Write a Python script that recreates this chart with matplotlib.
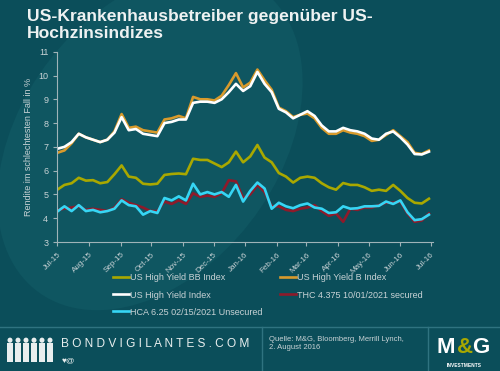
import pandas as pd
import matplotlib
matplotlib.use("Agg")
from matplotlib import pyplot as plt
from matplotlib.patches import Ellipse, Rectangle
import matplotlib.dates as mdates

# weekly observations, Jul 2015 - Jun 2016
dates = pd.date_range('2015-07-01', periods=53, freq='7D')

hy_bb = [5.2, 5.4, 5.47, 5.7, 5.58, 5.6, 5.47, 5.52, 5.85, 6.22,
         5.75, 5.7, 5.45, 5.42, 5.45, 5.82, 5.86, 5.88, 5.85, 6.5,
         6.45, 6.45, 6.3, 6.15, 6.35, 6.8, 6.35, 6.6, 7.08, 6.55,
         6.35, 5.9, 5.75, 5.5, 5.7, 5.75, 5.7, 5.47, 5.3, 5.2,
         5.48, 5.4, 5.4, 5.3, 5.15, 5.2, 5.15, 5.4, 5.15, 4.85,
         4.65, 4.62, 4.82]

hy_b = [6.75, 6.85, 7.15, 7.55, 7.4, 7.3, 7.2, 7.3, 7.65, 8.38,
        7.8, 7.85, 7.7, 7.65, 7.6, 8.15, 8.2, 8.3, 8.2, 9.1,
        9.0, 9.0, 8.95, 9.15, 9.6, 10.1, 9.5, 9.7, 10.25, 9.8,
        9.4, 8.65, 8.5, 8.25, 8.35, 8.4, 8.2, 7.8, 7.55, 7.55,
        7.7, 7.6, 7.55, 7.45, 7.25, 7.3, 7.5, 7.7, 7.45, 7.2,
        6.75, 6.7, 6.85]

hy_index = [6.92, 7.0, 7.2, 7.55, 7.4, 7.3, 7.2, 7.3, 7.6, 8.25,
            7.7, 7.75, 7.55, 7.5, 7.45, 8.0, 8.05, 8.15, 8.15, 8.85,
            8.9, 8.9, 8.85, 9.0, 9.3, 9.65, 9.35, 9.55, 10.15, 9.65,
            9.3, 8.6, 8.45, 8.2, 8.35, 8.5, 8.3, 7.9, 7.65, 7.65,
            7.8, 7.7, 7.65, 7.55, 7.35, 7.3, 7.55, 7.65, 7.4, 7.1,
            6.7, 6.68, 6.8]

thc = [4.35, 4.4, 4.45, 4.5, 4.35, 4.4, 4.35, 4.3, 4.45, 4.8,
       4.65, 4.55, 4.45, 4.3, 4.3, 4.7, 4.6, 4.75, 4.6, 5.05,
       4.9, 4.95, 4.9, 5.05, 5.6, 5.55, 4.85, 5.0, 5.4, 5.1,
       4.5, 4.5, 4.35, 4.3, 4.4, 4.45, 4.55, 4.3, 4.1, 4.2,
       3.85, 4.4, 4.35, 4.45, 4.45, 4.55, 4.65, 4.65, 4.7, 4.2,
       3.85, 3.9, 4.2]

hca = [4.28, 4.5, 4.3, 4.55, 4.3, 4.35, 4.25, 4.3, 4.4, 4.75,
       4.55, 4.5, 4.15, 4.3, 4.22, 4.85, 4.75, 4.92, 4.75, 5.45,
       5.0, 5.1, 5.0, 5.1, 4.9, 5.4, 4.7, 5.15, 5.5, 5.25,
       4.4, 4.65, 4.5, 4.42, 4.55, 4.62, 4.45, 4.4, 4.22, 4.25,
       4.5, 4.4, 4.42, 4.5, 4.5, 4.52, 4.7, 4.6, 4.75, 4.25,
       3.92, 3.96, 4.15]

bg = '#0b4e5a'
txt = '#c9d3d6'
axis_col = '#9fb3b8'
sep = '#2f7380'

plt.rcParams['font.family'] = ['Liberation Sans', 'DejaVu Sans']

fig = plt.figure(figsize=(5, 3.71), dpi=100)
fig.patch.set_facecolor(bg)

# faint watermark shape behind the chart
fig.patches.append(Ellipse((0.30, 0.62), 0.55, 0.95, angle=-20, transform=fig.transFigure,
                           facecolor='#0f5661', edgecolor='none', zorder=-1))

ax = fig.add_axes([0.1146, 0.3477, 0.7514, 0.5129])
ax.set_zorder(3)
ax.set_facecolor('none')

ax.plot(dates, hy_b, color='#d89a2c', lw=1.9, label='US High Yield B Index')
ax.plot(dates, hy_index, color='white', lw=1.9, label='US High Yield Index')
ax.plot(dates, hy_bb, color='#a9a800', lw=1.9, label='US High Yield BB Index')
ax.plot(dates, thc, color='#8e1a2a', lw=1.9, label='THC 4.375 10/01/2021 secured')
ax.plot(dates, hca, color='#36d6f5', lw=1.9, label='HCA 6.25 02/15/2021 Unsecured')

ax.set_ylim(3, 11)
ax.set_yticks(range(3, 12))
ax.set_xlim(pd.Timestamp('2015-07-01'), pd.Timestamp('2016-07-03'))
ax.set_xticks(pd.date_range('2015-07-01', '2016-07-01', freq='MS'))
ax.xaxis.set_major_formatter(mdates.DateFormatter('%b-%y'))
for lab in ax.get_xticklabels():
    lab.set_rotation(45)
    lab.set_ha('right')
    lab.set_rotation_mode('anchor')

for s in ['top', 'right']:
    ax.spines[s].set_visible(False)
for s in ['left', 'bottom']:
    ax.spines[s].set_color(axis_col)
ax.tick_params(colors=axis_col, labelcolor=txt, labelsize=6.5, length=3, width=0.8)
ax.tick_params(axis='x', labelsize=5.8)
ax.set_ylabel('Rendite im schlechtesten Fall in %', color=txt, fontsize=6.5)

# legend order as in the reference (column-wise fill)
h, l = ax.get_legend_handles_labels()
order = [2, 1, 4, 0, 3]
leg = fig.legend([h[i] for i in order], [l[i] for i in order], ncol=2,
                 loc='upper left', bbox_to_anchor=(0.21, 0.285), frameon=False,
                 fontsize=6.5, labelcolor=txt, handlelength=1.8, handletextpad=0.1,
                 columnspacing=1.9, labelspacing=0.9)

fig.text(0.054, 0.975, 'US-Krankenhausbetreiber gegenüber US-\nHochzinsindizes',
         color='#eef2f2', fontsize=12.6, fontweight='bold', va='top', linespacing=1.15)

# footer
fig.add_artist(plt.Line2D([0, 1], [0.118, 0.118], transform=fig.transFigure, color=sep, lw=1))
fig.add_artist(plt.Line2D([0.524, 0.524], [0, 0.118], transform=fig.transFigure, color=sep, lw=1))
fig.add_artist(plt.Line2D([0.856, 0.856], [0, 0.118], transform=fig.transFigure, color=sep, lw=1))

# little crowd of figures
for x in [0.014, 0.030, 0.046, 0.062, 0.078, 0.094]:
    fig.patches.append(Rectangle((x, 0.025), 0.012, 0.05, transform=fig.transFigure,
                                 facecolor='#e8eeee', edgecolor='none'))
    fig.patches.append(Ellipse((x + 0.006, 0.083), 0.01, 0.014, transform=fig.transFigure,
                               facecolor='#e8eeee', edgecolor='none'))

fig.text(0.122, 0.073, 'B O N D V I G I L A N T E S . C O M', color='#e8eeee', fontsize=8.6,
         va='center')
fig.text(0.124, 0.028, '♥@', color='#e8eeee', fontsize=6, va='center')
fig.text(0.538, 0.095, 'Quelle: M&G, Bloomberg, Merrill Lynch,\n2. August 2016',
         color=txt, fontsize=5.5, va='top', linespacing=1.2)
fig.text(0.872, 0.062, 'M', color='white', fontsize=16, fontweight='bold', va='center')
fig.text(0.913, 0.062, '&', color='#a9a800', fontsize=16, fontweight='bold', va='center')
fig.text(0.944, 0.062, 'G', color='white', fontsize=16, fontweight='bold', va='center')
fig.text(0.928, 0.015, 'INVESTMENTS', color='white', fontsize=3.5, fontweight='bold',
         ha='center', va='center')

fig.savefig('out.png', dpi=100, facecolor=fig.get_facecolor())
